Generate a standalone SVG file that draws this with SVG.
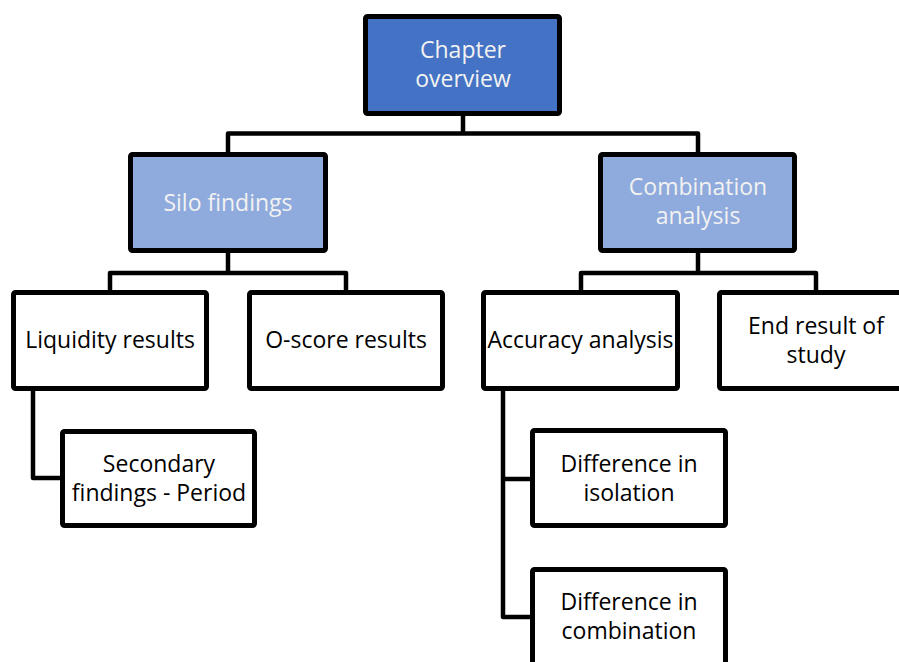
<svg xmlns="http://www.w3.org/2000/svg" width="899" height="662" viewBox="0 0 899 662">
<style>
.box{stroke:#000;stroke-width:5;stroke-linejoin:round}
.dark{fill:#4472C4}
.light{fill:#8FAADC}
.white{fill:#fff}
.t{font-family:"Open Sans","Liberation Sans",sans-serif;font-size:23px;text-anchor:middle}
.tw{fill:#F2F2F2}
.tb{fill:#000}
.c{fill:none;stroke:#000;stroke-width:4.5;stroke-linejoin:round}
</style>
<rect width="899" height="662" fill="#fff"/>
<g id="connectors">
<path class="c" d="M463,116 V133.5 M228,152 V133.5 H698 V152"/>
<path class="c" d="M228,253 V273 M110,291 V273 H346 V291"/>
<path class="c" d="M698,253 V273 M581,291 V273 H816 V291"/>
<path class="c" d="M33,391 V478 H62"/>
<path class="c" d="M503,391 V617 H532 M503,479 H532"/>
</g>
<g id="chapter-overview">
<rect class="box dark" x="365.5" y="16.5" width="194" height="97" rx="2"/>
<text class="t tw" x="463" y="58">Chapter</text>
<text class="t tw" x="463" y="87">overview</text>
</g>
<g id="silo-findings">
<rect class="box light" x="130.5" y="154.5" width="195" height="96" rx="2"/>
<text class="t tw" x="228" y="211">Silo findings</text>
</g>
<g id="combination-analysis">
<rect class="box light" x="600.5" y="154.5" width="194" height="96" rx="2"/>
<text class="t tw" x="698" y="195">Combination</text>
<text class="t tw" x="698" y="224">analysis</text>
</g>
<g id="liquidity-results">
<rect class="box white" x="13.5" y="292.5" width="193" height="96" rx="2"/>
<text class="t tb" x="110" y="348">Liquidity results</text>
</g>
<g id="o-score-results">
<rect class="box white" x="249.5" y="292.5" width="193" height="96" rx="2"/>
<text class="t tb" x="346" y="348">O-score results</text>
</g>
<g id="accuracy-analysis">
<rect class="box white" x="483.5" y="292.5" width="194" height="96" rx="2"/>
<text class="t tb" x="580.5" y="348">Accuracy analysis</text>
</g>
<g id="end-result">
<rect class="box white" x="719.5" y="292.5" width="194" height="96" rx="2"/>
<text class="t tb" x="816" y="334">End result of</text>
<text class="t tb" x="816" y="363">study</text>
</g>
<g id="secondary-findings">
<rect class="box white" x="62.5" y="431.5" width="192" height="94" rx="2"/>
<text class="t tb" x="159" y="472">Secondary</text>
<text class="t tb" x="159" y="501">findings - Period</text>
</g>
<g id="difference-isolation">
<rect class="box white" x="532.5" y="430.5" width="193" height="95" rx="2"/>
<text class="t tb" x="629" y="472">Difference in</text>
<text class="t tb" x="629" y="501">isolation</text>
</g>
<g id="difference-combination">
<rect class="box white" x="532.5" y="569.5" width="193" height="96" rx="2"/>
<text class="t tb" x="629" y="610">Difference in</text>
<text class="t tb" x="629" y="639">combination</text>
</g>
</svg>
